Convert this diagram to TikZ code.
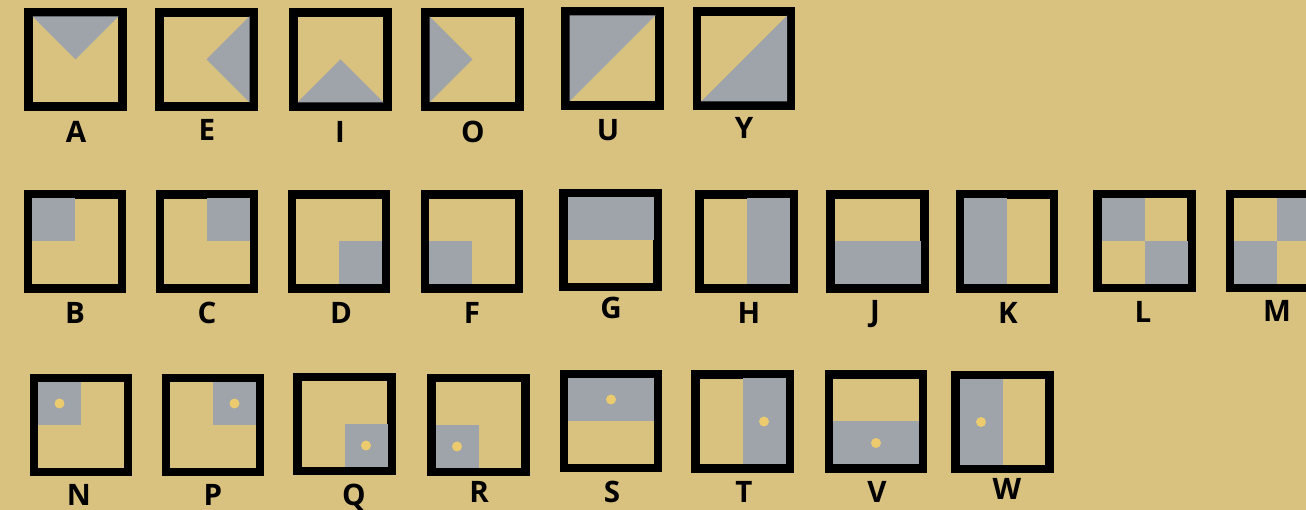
\documentclass[tikz,border=0pt]{standalone}
\usepackage{fontspec}
\setmainfont{Open Sans}
\usetikzlibrary{positioning}

\definecolor{sand}{HTML}{D9C17F}
\definecolor{slate}{HTML}{9FA3AA}
\definecolor{pip}{HTML}{EBCB6E}

\begin{document}
\begin{tikzpicture}[
    x=0.01cm, y=-0.01cm,
    tile/.style={
        rectangle,
        draw=black,
        line width=0.085cm,
        minimum size=0.94cm,
        inner sep=0pt,
        outer sep=0pt
    },
    letter/.style={
        font=\fontsize{8.4}{9}\selectfont\bfseries,
        inner sep=0pt
    },
    shade/.style={fill=slate},
    dot/.style={fill=pip}
]

\useasboundingbox (0,0) rectangle (1306,510);
\fill[sand] (0,0) rectangle (1306,510);

% row 1: triangles
\begin{scope}[shift={(75.5,59.5)}]
  \node[tile] (tA) {};
  \fill[shade] (-43,-43) -- (43,-43) -- (0,0) -- cycle;
\end{scope}
\begin{scope}[shift={(206.5,59.5)}]
  \node[tile] (tE) {};
  \fill[shade] (43,-43) -- (43,43) -- (0,0) -- cycle;
\end{scope}
\begin{scope}[shift={(340.5,59.5)}]
  \node[tile] (tI) {};
  \fill[shade] (-43,43) -- (43,43) -- (0,0) -- cycle;
\end{scope}
\begin{scope}[shift={(472.5,59.5)}]
  \node[tile] (tO) {};
  \fill[shade] (-43,-43) -- (-43,43) -- (0,0) -- cycle;
\end{scope}
\begin{scope}[shift={(612.5,58.5)}]
  \node[tile] (tU) {};
  \fill[shade] (-43,-43) -- (43,-43) -- (-43,43) -- cycle;
\end{scope}
\begin{scope}[shift={(744,58.5)}]
  \node[tile] (tY) {};
  \fill[shade] (43,-43) -- (43,43) -- (-43,43) -- cycle;
\end{scope}

\node[letter] (lA) at (76,132) {A};
\node[letter] (lE) at (207,130) {E};
\node[letter] (lI) at (340,132) {I};
\node[letter] (lO) at (473,132) {O};
\node[letter] (lU) at (608,130) {U};
\node[letter] (lY) at (744,128) {Y};

% row 2: halves and quarters
\begin{scope}[shift={(75,241.5)}]
  \node[tile] (tB) {};
  \fill[shade] (-43,-43) rectangle (0,0);
\end{scope}
\begin{scope}[shift={(207,241.5)}]
  \node[tile] (tC) {};
  \fill[shade] (0,-43) rectangle (43,0);
\end{scope}
\begin{scope}[shift={(339,241.5)}]
  \node[tile] (tD) {};
  \fill[shade] (0,0) rectangle (43,43);
\end{scope}
\begin{scope}[shift={(472,241.5)}]
  \node[tile] (tF) {};
  \fill[shade] (-43,0) rectangle (0,43);
\end{scope}
\begin{scope}[shift={(610.5,240)}]
  \node[tile] (tG) {};
  \fill[shade] (-43,-43) rectangle (43,0);
\end{scope}
\begin{scope}[shift={(746.5,241.5)}]
  \node[tile] (tH) {};
  \fill[shade] (0,-43) rectangle (43,43);
\end{scope}
\begin{scope}[shift={(877.5,241.5)}]
  \node[tile] (tJ) {};
  \fill[shade] (-43,0) rectangle (43,43);
\end{scope}
\begin{scope}[shift={(1007,241.5)}]
  \node[tile] (tK) {};
  \fill[shade] (-43,-43) rectangle (0,43);
\end{scope}
\begin{scope}[shift={(1144.5,241)}]
  \node[tile] (tL) {};
  \fill[shade] (-43,-43) rectangle (0,0);
  \fill[shade] (0,0) rectangle (43,43);
\end{scope}
\begin{scope}[shift={(1277,241)}]
  \node[tile] (tM) {};
  \fill[shade] (0,-43) rectangle (43,0);
  \fill[shade] (-43,0) rectangle (0,43);
\end{scope}

\node[letter] (lB) at (75,313) {B};
\node[letter] (lC) at (207,313) {C};
\node[letter] (lD) at (341,313) {D};
\node[letter] (lF) at (472,313) {F};
\node[letter] (lG) at (611,308) {G};
\node[letter] (lH) at (749,313) {H};
\node[letter] (lJ) at (875,314) {J};
\node[letter] (lK) at (1008,313) {K};
\node[letter] (lL) at (1143,312) {L};
\node[letter] (lM) at (1277,311) {M};

% row 3: same with a dot
\begin{scope}[shift={(81,425)}]
  \node[tile] (tN) {};
  \fill[shade] (-43,-43) rectangle (0,0);
  \fill[dot] (-21.5,-21.5) circle (5);
\end{scope}
\begin{scope}[shift={(213,425)}]
  \node[tile] (tP) {};
  \fill[shade] (0,-43) rectangle (43,0);
  \fill[dot] (21.5,-21.5) circle (5);
\end{scope}
\begin{scope}[shift={(344.5,424)}]
  \node[tile] (tQ) {};
  \fill[shade] (0,0) rectangle (43,43);
  \fill[dot] (21.5,21.5) circle (5);
\end{scope}
\begin{scope}[shift={(478.5,425)}]
  \node[tile] (tR) {};
  \fill[shade] (-43,0) rectangle (0,43);
  \fill[dot] (-21.5,21.5) circle (5);
\end{scope}
\begin{scope}[shift={(611,421)}]
  \node[tile] (tS) {};
  \fill[shade] (-43,-43) rectangle (43,0);
  \fill[dot] (0,-21.5) circle (5);
\end{scope}
\begin{scope}[shift={(742.5,421.5)}]
  \node[tile] (tT) {};
  \fill[shade] (0,-43) rectangle (43,43);
  \fill[dot] (21.5,0) circle (5);
\end{scope}
\begin{scope}[shift={(876,421.5)}]
  \node[tile] (tV) {};
  \fill[shade] (-43,0) rectangle (43,43);
  \fill[dot] (0,21.5) circle (5);
\end{scope}
\begin{scope}[shift={(1002.5,422)}]
  \node[tile] (tW) {};
  \fill[shade] (-43,-43) rectangle (0,43);
  \fill[dot] (-21.5,0) circle (5);
\end{scope}

\node[letter] (lN) at (79,495) {N};
\node[letter] (lP) at (213,495) {P};
\node[letter] (lQ) at (354,497) {Q};
\node[letter] (lR) at (479,492) {R};
\node[letter] (lS) at (612,492) {S};
\node[letter] (lT) at (744,492) {T};
\node[letter] (lV) at (877,492) {V};
\node[letter] (lW) at (1007,489) {W};

\end{tikzpicture}
\end{document}
